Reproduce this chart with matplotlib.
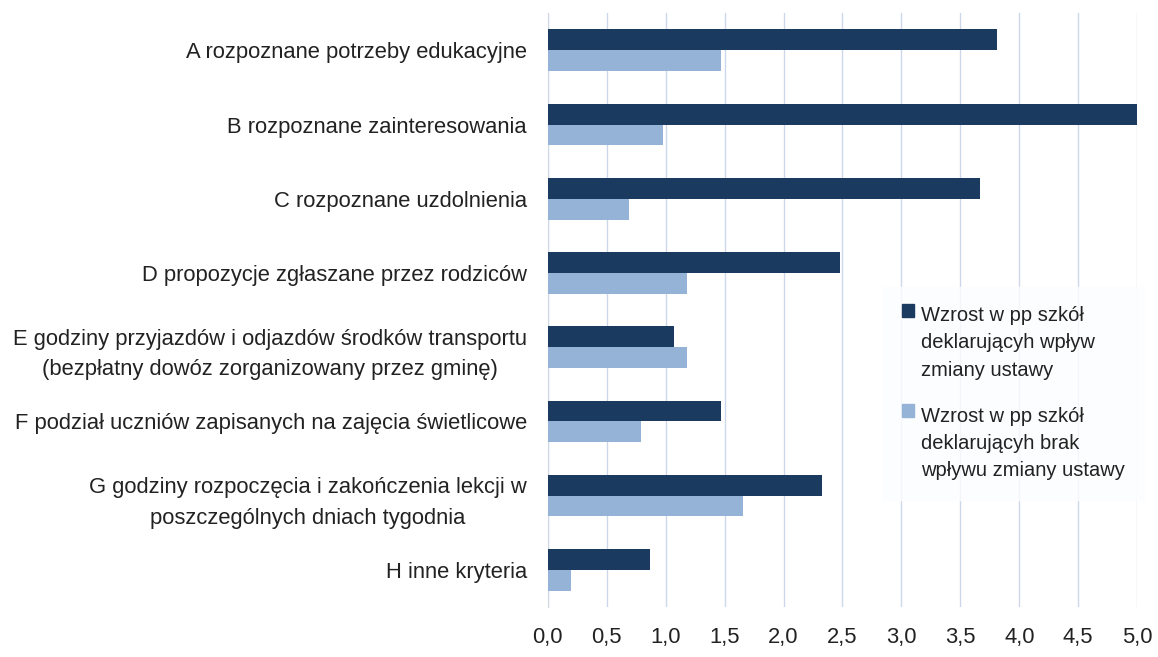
import numpy as np
import matplotlib.pyplot as plt
from matplotlib.ticker import FuncFormatter
from matplotlib.patches import Patch, Rectangle
from matplotlib.legend_handler import HandlerPatch

plt.rcParams['font.family'] = ['Liberation Sans Narrow', 'Liberation Sans', 'DejaVu Sans']

# dane
kategorie = [
    'A rozpoznane potrzeby edukacyjne',
    'B rozpoznane zainteresowania',
    'C rozpoznane uzdolnienia',
    'D propozycje zgłaszane przez rodziców',
    'E godziny przyjazdów i odjazdów środków transportu\n(bezpłatny dowóz zorganizowany przez gminę)',
    'F podział uczniów zapisanych na zajęcia świetlicowe',
    'G godziny rozpoczęcia i zakończenia lekcji w\nposzczególnych dniach tygodnia',
    'H inne kryteria',
]
wplyw = [3.81, 5.01, 3.67, 2.48, 1.07, 1.47, 2.33, 0.87]
brak_wplywu = [1.47, 0.98, 0.69, 1.18, 1.18, 0.79, 1.66, 0.20]
legenda = [
    'Wzrost w pp szkół\ndeklarującyh wpływ\nzmiany ustawy',
    'Wzrost w pp szkół\ndeklarującyh brak\nwpływu zmiany ustawy',
]

ciemny = '#1B3A60'
jasny = '#95B3D7'

fig = plt.figure(figsize=(11.58, 6.57), dpi=100)
ax = fig.add_axes([0.473, 0.076, 0.509, 0.904])

y = np.arange(len(kategorie))
h = 0.28
ax.barh(y - h / 2, wplyw, height=h, color=ciemny, zorder=3)
ax.barh(y + h / 2, brak_wplywu, height=h, color=jasny, zorder=3)

ax.set_ylim(7.5, -0.5)
ax.set_xlim(0, 5.0)
ax.set_xticks(np.arange(0, 5.01, 0.5))
ax.xaxis.set_major_formatter(FuncFormatter(lambda v, p: f'{v:.1f}'.replace('.', ',')))
ax.set_yticks(y)
ax.set_yticklabels(kategorie, multialignment='center', linespacing=1.6)
ax.tick_params(axis='both', length=0, labelsize=15.8, colors='#222222')
ax.tick_params(axis='y', pad=15)
ax.tick_params(axis='x', pad=14)

ax.grid(axis='x', color='#CCD8EA', linewidth=1, zorder=0)
for s in ['top', 'right', 'bottom']:
    ax.spines[s].set_visible(False)
ax.spines['left'].set_color('#D0D8E4')


# kwadracik legendy przy pierwszej linii opisu
def kwadrat(legend, orig_handle, xdescent, ydescent, width, height, fontsize):
    return Rectangle((-xdescent, -ydescent + 1.65 * fontsize), width, height)


uchwyty = [Patch(color=ciemny), Patch(color=jasny)]
leg = fig.legend(uchwyty, legenda, loc='upper left', bbox_to_anchor=(0.7625, 0.563),
                 fontsize=14.5, frameon=True, fancybox=False, handlelength=0.6,
                 handleheight=0.6, handletextpad=0.35, labelspacing=1.35,
                 borderpad=0.95, borderaxespad=0,
                 handler_map={Patch: HandlerPatch(patch_func=kwadrat)})
leg.get_frame().set_facecolor('#FCFDFE')
leg.get_frame().set_edgecolor('#FCFDFE')
for t in leg.get_texts():
    t.set_color('#222222')
    t.set_linespacing(1.55)

fig.savefig('out.png', dpi=100)
